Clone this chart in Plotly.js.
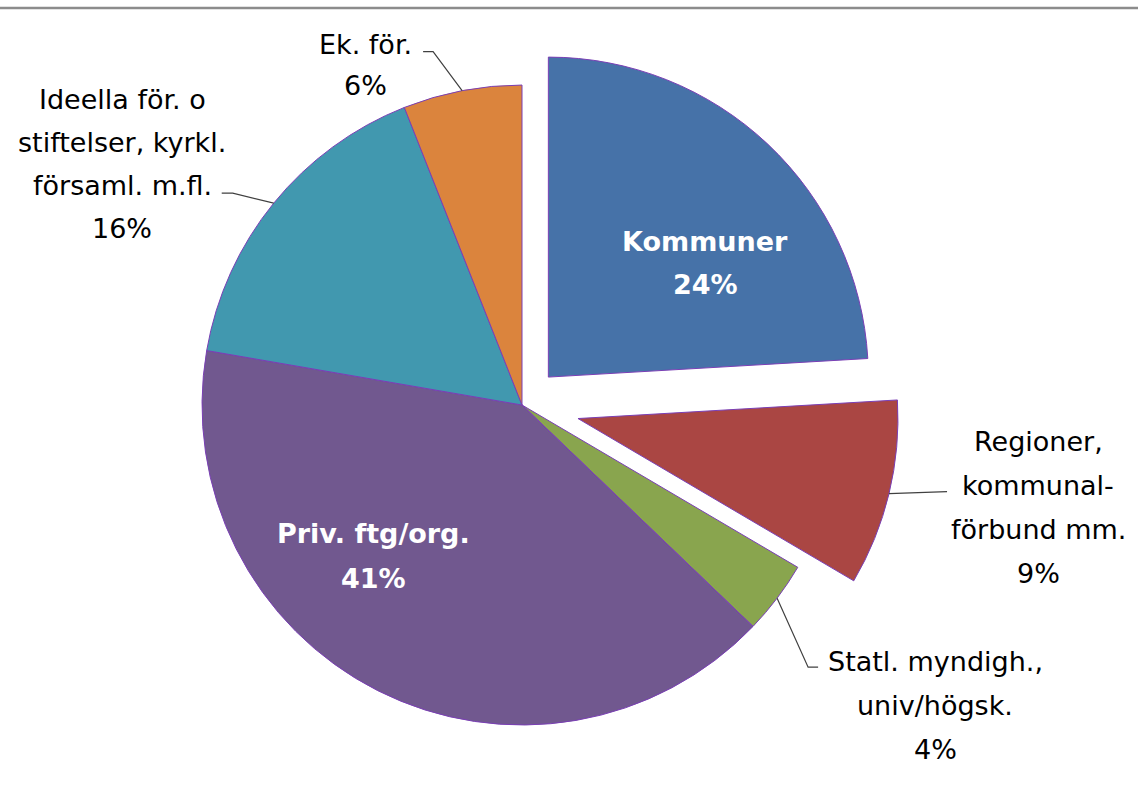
<!DOCTYPE html>
<html>
<head>
<meta charset="utf-8">
<script src="https://cdn.plot.ly/plotly-3.0.1.min.js"></script>
<style>html,body{margin:0;padding:0;background:#fff;}#chart{width:1138px;height:795px;}</style>
</head>
<body>
<div id="chart"></div>
<script>
// ---- data ----
var categories = ['Kommuner', 'Regioner,\nkommunal-\nförbund mm.', 'Statl. myndigh.,\nuniv/högsk.', 'Priv. ftg/org.', 'Ideella för. o\nstiftelser, kyrkl.\nförsaml. m.fl.', 'Ek. för.'];
var values = [24.1, 9.4, 3.7, 40.6, 16.3, 6.0];
var pulls = [0.12, 0.18, 0, 0, 0, 0];
var colors = ['#4672A8', '#AA4643', '#89A54E', '#71588F', '#4198AF', '#DB843D'];

// ---- layout geometry ----
var W = 1138, H = 795;
var dom = {x: [0.1269, 0.7905], y: [0.0156, 0.9655]};
var FONT = 'DejaVu Sans, Open Sans, sans-serif';
var FS = 27;
// label placement (pixels): [centerX, firstLineY, lineSpacing, inside]
var labelPlace = [
  [705, 242, 43, true],
  [1038, 441, 44, false],
  [935, 661, 44, false],
  [373, 533, 45, true],
  [122, 100, 43, false],
  [365, 45, 41, false]
];
// leader line bends relative to arc anchor (pixels)
var leader = [
  null,
  [[58, -2]],
  [[31, 69], [41, 69]],
  null,
  [[-41, -10], [-52, -10]],
  [[-29, -39], [-39, -39]]
];

var total = values.reduce(function(a, b){return a + b;}, 0);
var maxPull = Math.max.apply(null, pulls);
var rx = W * (dom.x[1] - dom.x[0]) / 2, ry = H * (dom.y[1] - dom.y[0]) / 2;
var R = Math.min(rx, ry) / (1 + maxPull);
var CX = W * (dom.x[0] + dom.x[1]) / 2;
var CY = H * (1 - (dom.y[0] + dom.y[1]) / 2);
function px(x){ return x / W; }
function py(y){ return 1 - y / H; }

var annotations = [];
var shapes = [{type: 'line', xref: 'paper', yref: 'paper', x0: 0, x1: 1, y0: py(8), y1: py(8), line: {color: '#8C8C8C', width: 2.5}}];
var cum = 0;
for (var i = 0; i < values.length; i++) {
  var pct = Math.round(values[i] / total * 100) + '%';
  var lines = categories[i].split('\n').concat([pct]);
  var p = labelPlace[i];
  for (var k = 0; k < lines.length; k++) {
    annotations.push({
      xref: 'paper', yref: 'paper', x: px(p[0]), y: py(p[1] + k * p[2]),
      xanchor: 'center', yanchor: 'middle', showarrow: false,
      text: p[3] ? '<b>' + lines[k] + '</b>' : lines[k],
      font: {family: FONT, size: FS, color: p[3] ? '#FFFFFF' : '#000000'}
    });
  }
  var mid = (cum + values[i] / 2) / total * 2 * Math.PI;
  cum += values[i];
  if (leader[i]) {
    var rr = R * (1 + pulls[i]);
    var ax = CX + rr * Math.sin(mid), ay = CY - rr * Math.cos(mid);
    var path = 'M' + px(ax) + ',' + py(ay);
    leader[i].forEach(function(o){ path += ' L' + px(ax + o[0]) + ',' + py(ay + o[1]); });
    shapes.push({type: 'path', xref: 'paper', yref: 'paper', path: path, line: {color: '#404040', width: 1.2}});
  }
}

var trace = {
  type: 'pie',
  labels: categories.map(function(c){ return c.replace(/\n/g, ' '); }),
  values: values,
  pull: pulls,
  sort: false,
  direction: 'clockwise',
  rotation: 0,
  textinfo: 'none',
  hoverinfo: 'label+percent',
  marker: {colors: colors, line: {color: '#7A3FB5', width: 1}},
  domain: dom
};

var layout = {
  width: W, height: H,
  margin: {l: 0, r: 0, t: 0, b: 0},
  paper_bgcolor: '#FFFFFF',
  showlegend: false,
  annotations: annotations,
  shapes: shapes,
  font: {family: FONT}
};

Plotly.newPlot('chart', [trace], layout, {displayModeBar: false, staticPlot: true});
</script>
</body>
</html>
